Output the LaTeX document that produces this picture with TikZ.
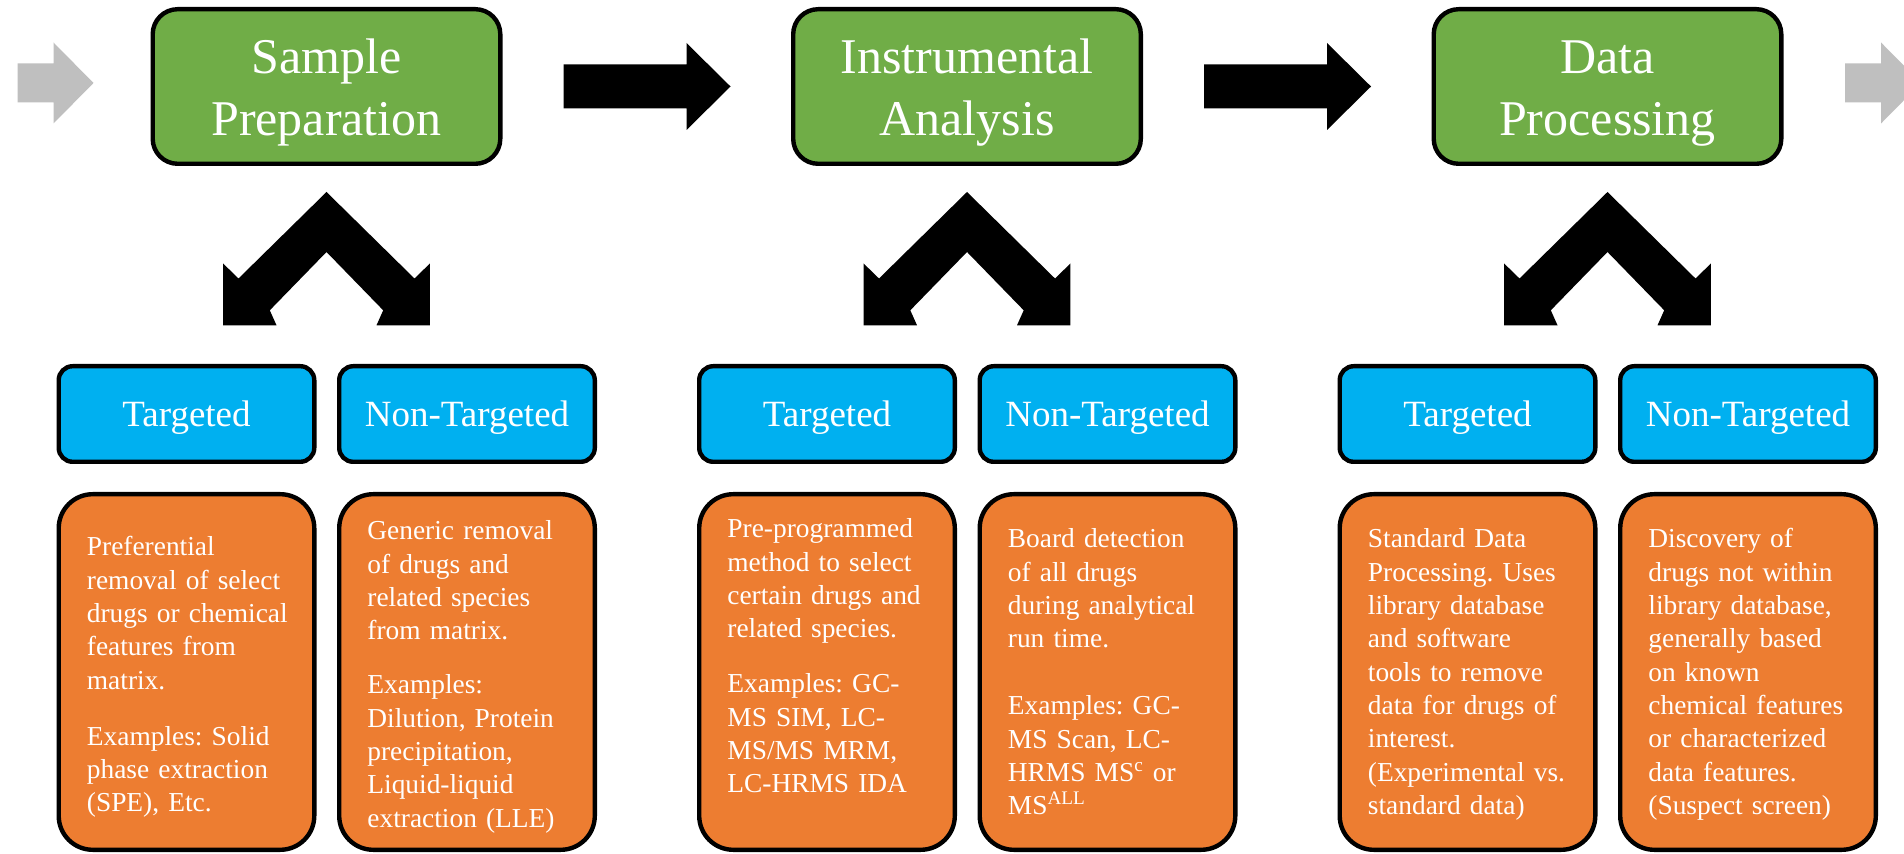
\documentclass[tikz,border=0pt]{standalone}
\usepackage{fontspec}
\setmainfont{Liberation Serif}
\usetikzlibrary{calc}
\definecolor{boxgreen}{HTML}{70AD47}
\definecolor{boxblue}{HTML}{00B0F0}
\definecolor{boxorange}{HTML}{ED7D31}
\definecolor{arrowgray}{HTML}{BFBFBF}
\frenchspacing
\begin{document}
\begin{tikzpicture}[x=0.5pt,y=-0.5pt,
  stagebox/.style={draw=black, line width=2.2pt, fill=boxgreen, rounded corners=12.5pt, minimum width=173.8pt, minimum height=77.3pt, inner sep=0pt},
  kindbox/.style={draw=black, line width=2.2pt, fill=boxblue, rounded corners=7pt, minimum width=127.8pt, minimum height=47.8pt, inner sep=0pt},
  descbox/.style={draw=black, line width=2.2pt, fill=boxorange, rounded corners=17pt, minimum width=127.8pt, minimum height=177.8pt, inner sep=0pt},
  titletext/.style={text=white, font=\fontsize{25pt}{31pt}\selectfont, align=center, text width=170pt, inner sep=0pt, anchor=base},
  kindtext/.style={text=white, font=\fontsize{18.5pt}{22pt}\selectfont, inner sep=0pt, anchor=base},
  desctext/.style={text=white, font=\fontsize{13.7pt}{16.65pt}\selectfont\frenchspacing, align=left, text width=118pt, inner sep=0pt, anchor=base west},
  splitarrow/.pic={\fill[black] (0,0) -- (88,86.5) -- (103.4,71.5) -- (103.4,133.3) -- (50,133.3) -- (56.7,118.3) -- (0,60) -- (-56.7,118.3) -- (-50,133.3) -- (-103.4,133.3) -- (-103.4,71.5) -- (-88,86.5) -- cycle;},
  blockarrow/.pic={\fill[black] (0,-22) -- (123,-22) -- (123,-43.5) -- (167,0) -- (123,43.5) -- (123,22) -- (0,22) -- cycle;},
  grayarrow/.pic={\fill[arrowgray] (0,-19.5) -- (36,-19.5) -- (36,-40.5) -- (76,0) -- (36,40.5) -- (36,19.5) -- (0,19.5) -- cycle;}
]
\useasboundingbox (0,0) rectangle (1904,854);
\fill[white] (0,0) rectangle (1904,854);
\clip (0,0) rectangle (1904,854);

% stage boxes
\node[stagebox] (g1) at (326.5,86.5) {};
\node[stagebox] (g2) at (967,86.5) {};
\node[stagebox] (g3) at (1607.5,86.5) {};
\node[titletext] (t1) at (326.5,74) {Sample\\Preparation};
\node[titletext] (t2) at (967,74) {Instrumental\\Analysis};
\node[titletext] (t3) at (1607.5,74) {Data\\Processing};

% flow arrows
\pic at ($(g1.center)+(-309,-3.5)$) {grayarrow};
\pic at ($(g1.center)+(237,0)$) {blockarrow};
\pic at ($(g2.center)+(237,0)$) {blockarrow};
\pic at ($(g3.center)+(237.5,-3.5)$) {grayarrow};

% split arrows
\pic at ($(g1.center)+(0,105.5)$) {splitarrow};
\pic at ($(g2.center)+(0,105.5)$) {splitarrow};
\pic at ($(g3.center)+(0,105.5)$) {splitarrow};

% kind boxes
\node[kindbox] (k1t) at (186.5,414) {};
\node[kindbox] (k1n) at (467,414) {};
\node[kindbox] (k2t) at (827,414) {};
\node[kindbox] (k2n) at (1107.5,414) {};
\node[kindbox] (k3t) at (1467.5,414) {};
\node[kindbox] (k3n) at (1748,414) {};
\node[kindtext] (l1t) at (186.5,427) {Targeted};
\node[kindtext] (l1n) at (467,427) {Non-Targeted};
\node[kindtext] (l2t) at (827,427) {Targeted};
\node[kindtext] (l2n) at (1107.5,427) {Non-Targeted};
\node[kindtext] (l3t) at (1467.5,427) {Targeted};
\node[kindtext] (l3n) at (1748,427) {Non-Targeted};

% description boxes
\node[descbox] (d1t) at (186.5,672) {};
\node[descbox] (d1n) at (467,672) {};
\node[descbox] (d2t) at (827,672) {};
\node[descbox] (d2n) at (1107.5,672) {};
\node[descbox] (d3t) at (1467.5,672) {};
\node[descbox] (d3n) at (1748,672) {};

\node[desctext] (x1t) at (86.5,556) {Preferential\\removal of select\\drugs or chemical\\features from\\matrix.\\[11.3pt]Examples: Solid\\phase extraction\\(SPE), Etc.};
\node[desctext] (x1n) at (367,540) {Generic removal\\of drugs and\\related species\\from matrix.\\[10.4pt]Examples:\\Dilution, Protein\\precipitation,\\Liquid-liquid\\extraction (LLE)};
\node[desctext] (x2t) at (727,538) {Pre-programmed\\method to select\\certain drugs and\\related species.\\[10.9pt]Examples: GC-\\MS SIM, LC-\\MS/MS MRM,\\LC-HRMS IDA};
\node[desctext] (x2n) at (1007.5,548) {Board detection\\of all drugs\\during analytical\\run time.\\[16.9pt]Examples: GC-\\MS Scan, LC-\\HRMS MS\textsuperscript{c} or\\MS\textsuperscript{ALL}};
\node[desctext] (x3t) at (1367.5,548) {Standard Data\\Processing. Uses\\library database\\and software\\tools to remove\\data for drugs of\\interest.\\(Experimental vs.\\standard data)};
\node[desctext] (x3n) at (1648,548) {Discovery of\\drugs not within\\library database,\\generally based\\on known\\chemical features\\or characterized\\data features.\\(Suspect screen)};
\end{tikzpicture}
\end{document}
